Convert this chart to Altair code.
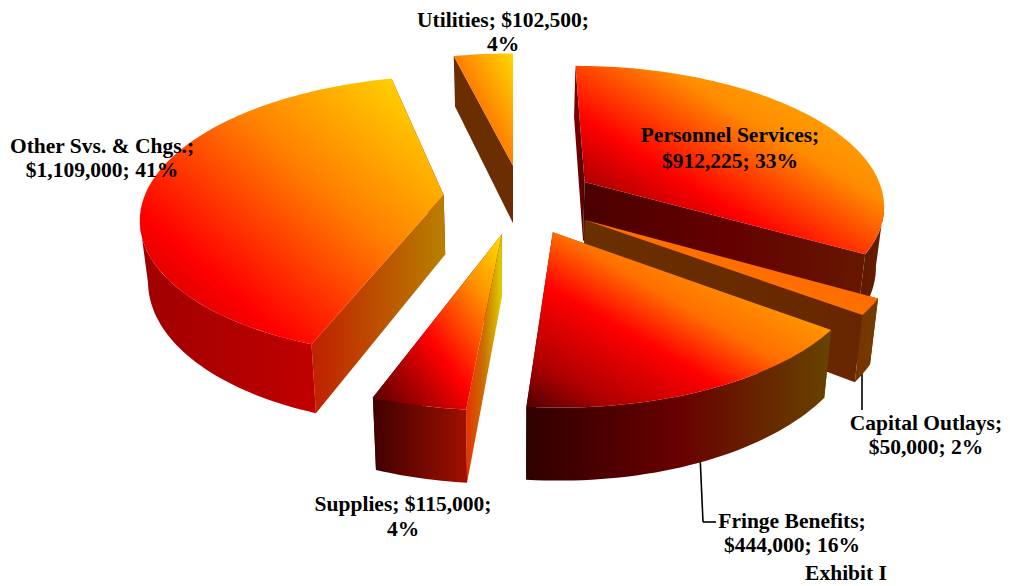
import math
import altair as alt

# ---- chart values
categories = ["Personnel Services", "Capital Outlays", "Fringe Benefits", "Supplies", "Other Svs. & Chgs.", "Utilities"]
amounts = [912225, 50000, 444000, 115000, 1109000, 102500]
labels = [
    "Personnel Services;\n$912,225; 33%",
    "Capital Outlays;\n$50,000; 2%",
    "Fringe Benefits;\n$444,000; 16%",
    "Supplies; $115,000;\n4%",
    "Other Svs. & Chgs.;\n$1,109,000; 41%",
    "Utilities; $102,500;\n4%",
]
footer = "Exhibit I"

# ---- layout of the 3-D pie (image pixels / radius units)
CX, CY, RX, RY, K, DEPTH, SHRINK = 513, 205, 302, 140, 0.15, 60, 0.978
explode_x = [0.243, 0.234, 0.128, -0.036, -0.232, 0.0]
explode_y = [0.168, -0.105, -0.189, -0.203, 0.072, 0.293]
draw_order = [5, 0, 4, 1, 2, 3]
label_x = [730, 926, 792, 403, 102, 503]
label_y = [142, 430, 528, 511, 153, 27]
label_step = [26, 24, 24, 25, 24, 24]

# ---- colours: (offset, colour) stops
top_stops = [
    [(.15, "#ffa800"), (.36, "#ff8c00"), (.63, "#ff0000"), (.82, "#a00000"), (1, "#600000")],
    [(0, "#ff5a00"), (1, "#ff8400")],
    [(.25, "#ff9c00"), (.45, "#ff7000"), (.62, "#ff0000"), (.85, "#b00000"), (1, "#500000")],
    [(0, "#ffe000"), (.25, "#ff9000"), (.58, "#ff0000"), (.80, "#a00000"), (1, "#500000")],
    [(.08, "#ffd000"), (.40, "#ff8000"), (.75, "#ff0000"), (1, "#b00000")],
    [(0, "#ffd800"), (.5, "#ff8000"), (1, "#ff0000")],
]
start_wall_stops = [
    [(0, "#800000"), (1, "#500000")],
    [(0, "#6a2a00"), (1, "#6a2a00")],
    [(0, "#6a2a00"), (1, "#6a2a00")],
    [(0, "#e83000"), (.5, "#c87000"), (1, "#e0d000")],
    [(0, "#c02000"), (1, "#b88000")],
    [(0, "#6a2e00"), (1, "#6a2e00")],
]
end_wall_stops = [
    [(0, "#4a0000"), (.5, "#640000"), (1, "#661800")],
    [(0, "#6a3000"), (1, "#682600")],
    [(0, "#500000"), (1, "#500000")],
    [(0, "#500000"), (1, "#800000")],
    [(0, "#a00000"), (1, "#c00000")],
    [(0, "#6a2e00"), (1, "#6a2e00")],
]
outer_wall_stops = [
    [(0, "#5f1800"), (1, "#642000")],
    [(0, "#7a3000"), (1, "#704000")],
    [(0, "#300000"), (.5, "#680000"), (1, "#664400")],
    [(0, "#400000"), (1, "#a01000")],
    [(0, "#a00000"), (1, "#c00000")],
    [(0, "#6a2e00"), (1, "#6a2e00")],
]


def project(X, Y, bottom=False):
    s = 1.0 / (1.0 + K * Y)
    x = CX + RX * X * s
    y = CY - RY * Y * s
    if bottom:
        x = CX + (x - CX) * SHRINK
        y = y + DEPTH * s
    return [round(x, 2), round(y, 2)]


def rim(i, a):
    t = math.radians(a)
    return (explode_x[i] + math.sin(t), explode_y[i] + math.cos(t))


def arc_angles(a0, a1):
    n = max(2, int((a1 - a0) / 1.5) + 1)
    return [a0 + (a1 - a0) * j / n for j in range(n + 1)]


def gradient(stops, diagonal=False):
    return alt.LinearGradient(
        gradient="linear",
        x1=1 if diagonal else 0,
        y1=0,
        x2=0 if diagonal else 1,
        y2=1 if diagonal else 0,
        stops=[alt.GradientStop(offset=o, color=c) for o, c in stops],
    )


def poly(points, fill):
    ring = points + [points[0]]
    feature = {"type": "Feature", "properties": {}, "geometry": {"type": "Polygon", "coordinates": [ring]}}
    return (
        alt.Chart(alt.Data(values=[feature]))
        .mark_geoshape(fill=fill, stroke=None, strokeWidth=0)
        .project(type="identity", scale=1, translate=[-8, -8])
    )


total = sum(amounts)
starts, acc = [], 0.0
for v in amounts:
    starts.append(acc)
    acc += 360.0 * v / total

layers = []

# leader lines
for x0, y0, x1, y1 in [(700, 455, 703, 522), (703, 522, 716, 522), (862, 372, 862, 410)]:
    layers.append(
        alt.Chart(alt.Data(values=[{"a": 1}]))
        .mark_rule(color="black", strokeWidth=1.6)
        .encode(x=alt.value(x0 - 8), x2=alt.value(x1 - 8), y=alt.value(y0 - 8), y2=alt.value(y1 - 8))
    )

for i in draw_order:
    a0 = starts[i]
    a1 = a0 + 360.0 * amounts[i] / total
    apex = (explode_x[i], explode_y[i])
    apex_top, apex_bot = project(*apex), project(*apex, bottom=True)
    # straight inner walls, the one further back first
    walls = [(a0, start_wall_stops[i]), (a1, end_wall_stops[i])]
    walls.sort(key=lambda w: -rim(i, w[0])[1])
    for a, st in walls:
        p = rim(i, a)
        layers.append(poly([apex_top, project(*p), project(*p, bottom=True), apex_bot], gradient(st)))
    # outer curved wall, only between the silhouette (tangent) angles of the rim
    right = max(range(45, 136), key=lambda a: project(*rim(i, a))[0])
    left = min(range(225, 316), key=lambda a: project(*rim(i, a))[0])
    w0, w1 = max(a0, float(right)), min(a1, float(left))
    if w1 > w0:
        ang = arc_angles(w0, w1)
        upper = [project(*rim(i, a)) for a in ang]
        lower = [project(*rim(i, a), bottom=True) for a in reversed(ang)]
        layers.append(poly(upper + lower, gradient(outer_wall_stops[i])))
    # top face
    face = [apex_top] + [project(*rim(i, a)) for a in arc_angles(a0, a1)]
    layers.append(poly(face, gradient(top_stops[i], diagonal=True)))

# text
text_style = dict(font="Liberation Serif", fontWeight="bold", fontSize=21.5, color="black", align="center", baseline="alphabetic")
for i, lab in enumerate(labels):
    layers.append(
        alt.Chart(alt.Data(values=[{"t": lab, "c": categories[i]}]))
        .mark_text(lineBreak="\n", lineHeight=label_step[i], **text_style)
        .encode(text="t:N", x=alt.value(label_x[i] - 8), y=alt.value(label_y[i] - 8))
    )
layers.append(
    alt.Chart(alt.Data(values=[{"t": footer}]))
    .mark_text(**text_style)
    .encode(text="t:N", x=alt.value(846 - 8), y=alt.value(580 - 8))
)

chart = (
    alt.layer(*layers)
    .properties(width=994, height=576, padding=0, autosize=alt.AutoSizeParams(type="none"))
    .configure_view(stroke=None)
)
chart.save("out.html", embed_options={"renderer": "svg", "actions": False})
